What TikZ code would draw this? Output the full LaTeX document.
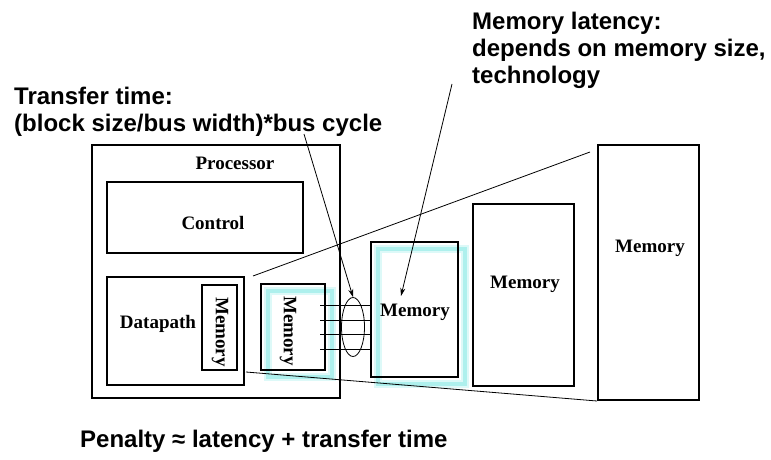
\documentclass[tikz,border=0pt]{standalone}
\usepackage{fontspec}
\setmainfont{Liberation Serif}
\newfontfamily\headfont{Liberation Sans}
\usetikzlibrary{arrows.meta,shapes.geometric}
\definecolor{aqua}{RGB}{120,230,225}

\begin{document}
\begin{tikzpicture}[x=1pt,y=-1pt,
  box/.style={draw,line width=1.8pt},
  glow/.style={draw=aqua!25,line width=8pt},
  glowin/.style={draw=aqua!60,line width=3.5pt},
  lbl/.style={font=\fontsize{19}{21}\selectfont\bfseries,inner sep=0pt},
  head/.style={font=\headfont\fontsize{24}{27}\selectfont\bfseries,align=left,inner sep=0pt},
  ptr/.style={-{Stealth[length=8pt,width=5pt]},line width=0.8pt}]

\useasboundingbox (0,0) rectangle (771,460);

% cyan shadows of the cache blocks
\draw[glow] (268,291) rectangle (332,377);
\draw[glowin] (268,291) rectangle (332,377);
\draw[glow] (378,249) rectangle (465,384);
\draw[glowin] (378,249) rectangle (465,384);

% processor
\draw[box] (92,145) rectangle (340,398);
\node[lbl,anchor=base] (proc) at (235,169) {Processor};
\draw[box] (107,182) rectangle (303,253);
\node[lbl,anchor=base] (ctrl) at (213,229) {Control};
\draw[box] (107,277) rectangle (244,385);
\node[lbl,anchor=base] (dpath) at (158,328) {Datapath};
\draw[box] (202,285) rectangle (237,370);
\node[lbl,rotate=-90] (regmem) at (220,332) {Memory};
\draw[box] (261,284) rectangle (325,370);
\node[lbl,rotate=-90] (lonemem) at (288,331) {Memory};

% bus
\foreach \y in {305,320,334,349}
  \draw[line width=0.8pt] (320,\y) -- (371,\y);
\node[draw,ellipse,line width=0.8pt,inner sep=0pt,minimum width=23,minimum height=59] (bus) at (353,327) {};

% zoom lines
\draw[line width=0.8pt] (253,276) -- (590,152);
\draw[line width=0.8pt] (246,372) -- (597,401);

% memory hierarchy
\draw[box] (371,242) rectangle (458,377);
\node[lbl,anchor=base] (ltwomem) at (415,316) {Memory};
\draw[box] (473,204) rectangle (574,386);
\node[lbl,anchor=base] (lthreemem) at (525,288) {Memory};
\draw[box] (598,145) rectangle (699,400);
\node[lbl,anchor=base] (mainmem) at (650,252) {Memory};

% annotations
\node[head,anchor=north west] (ttime) at (14,87) {Transfer time:\\(block size/bus width)*bus cycle};
\node[head,anchor=north west] (mlat) at (472,12) {Memory latency:\\depends on memory size,\\technology};
\node[head,anchor=base west] (pen) at (80,447) {Penalty ≈ latency + transfer time};

\coordinate (ttfoot) at (304,134);
\coordinate (mlfoot) at (452,84);
\coordinate (mltip) at (401,296);
\draw[ptr] (ttfoot) -- (bus.north);
\draw[ptr] (mlfoot) -- (mltip);
\end{tikzpicture}
\end{document}
